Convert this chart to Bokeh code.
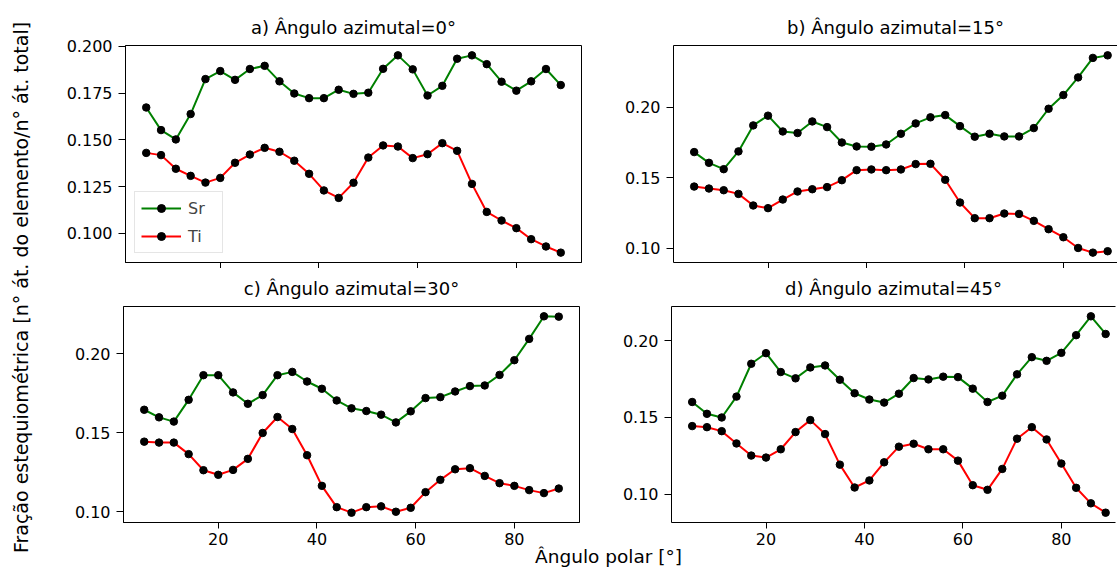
import math
from bokeh.plotting import figure
from bokeh.models import Range1d, FixedTicker, PrintfTickFormatter, Label, LinearAxis
from bokeh.layouts import row, column
from bokeh.embed import file_html
from bokeh.resources import INLINE

# ---------------- data ----------------
polar = [5, 8, 11, 14, 17, 20, 23, 26, 29, 32, 35, 38, 41, 44, 47, 50, 53, 56, 59,
         62, 65, 68, 71, 74, 77, 80, 83, 86, 89]

sr_a = [0.1673, 0.1552, 0.1502, 0.1638, 0.1825, 0.1868, 0.1821, 0.1879, 0.1896, 0.1813,
        0.1748, 0.1723, 0.1723, 0.1768, 0.1746, 0.1752, 0.1880, 0.1952, 0.1877, 0.1737,
        0.1789, 0.1934, 0.1952, 0.1905, 0.1811, 0.1763, 0.1813, 0.1879, 0.1793]
ti_a = [0.1430, 0.1418, 0.1345, 0.1307, 0.1271, 0.1296, 0.1377, 0.1421, 0.1457, 0.1436,
        0.1388, 0.1318, 0.1229, 0.1189, 0.1270, 0.1405, 0.1470, 0.1464, 0.1402, 0.1423,
        0.1482, 0.1441, 0.1264, 0.1114, 0.1068, 0.1027, 0.0968, 0.0929, 0.0896]

sr_b = [0.1681, 0.1605, 0.1560, 0.1686, 0.1870, 0.1939, 0.1827, 0.1816, 0.1898, 0.1858,
        0.1749, 0.1721, 0.1719, 0.1735, 0.1811, 0.1884, 0.1927, 0.1943, 0.1865, 0.1790,
        0.1811, 0.1792, 0.1792, 0.1851, 0.1988, 0.2085, 0.2210, 0.2348, 0.2366]
ti_b = [0.1437, 0.1423, 0.1411, 0.1385, 0.1303, 0.1284, 0.1345, 0.1402, 0.1418, 0.1433,
        0.1482, 0.1553, 0.1558, 0.1553, 0.1558, 0.1596, 0.1598, 0.1485, 0.1324, 0.1213,
        0.1213, 0.1246, 0.1243, 0.1194, 0.1135, 0.1078, 0.1002, 0.0969, 0.0979]

sr_c = [0.1646, 0.1598, 0.1571, 0.1709, 0.1865, 0.1865, 0.1756, 0.1684, 0.1739, 0.1865,
        0.1886, 0.1825, 0.1779, 0.1705, 0.1655, 0.1638, 0.1615, 0.1566, 0.1636, 0.1720,
        0.1726, 0.1762, 0.1796, 0.1800, 0.1867, 0.1960, 0.2095, 0.2238, 0.2236]
ti_c = [0.1444, 0.1438, 0.1438, 0.1365, 0.1263, 0.1234, 0.1265, 0.1335, 0.1499, 0.1600,
        0.1524, 0.1358, 0.1164, 0.1029, 0.0994, 0.1029, 0.1034, 0.1000, 0.1025, 0.1124,
        0.1202, 0.1269, 0.1276, 0.1227, 0.1181, 0.1164, 0.1137, 0.1118, 0.1147]

sr_d = [0.1600, 0.1523, 0.1499, 0.1635, 0.1849, 0.1918, 0.1795, 0.1754, 0.1825, 0.1838,
        0.1745, 0.1657, 0.1616, 0.1596, 0.1654, 0.1756, 0.1747, 0.1765, 0.1762, 0.1687,
        0.1600, 0.1641, 0.1780, 0.1892, 0.1868, 0.1920, 0.2035, 0.2158, 0.2043]
ti_d = [0.1443, 0.1436, 0.1410, 0.1330, 0.1251, 0.1238, 0.1292, 0.1404, 0.1482, 0.1391,
        0.1192, 0.1043, 0.1089, 0.1207, 0.1309, 0.1328, 0.1292, 0.1292, 0.1218, 0.1058,
        0.1028, 0.1164, 0.1361, 0.1436, 0.1356, 0.1199, 0.1041, 0.0940, 0.0879]

titles = ["a) Ângulo azimutal=0°", "b) Ângulo azimutal=15°",
          "c) Ângulo azimutal=30°", "d) Ângulo azimutal=45°"]
x_ticks = [20, 40, 60, 80]
y_ticks_a = [0.100, 0.125, 0.150, 0.175, 0.200]
y_ticks_bcd = [0.10, 0.15, 0.20]
series_names = ["Sr", "Ti"]
series_colors = ["green", "red"]
x_label = "Ângulo polar [°]"
y_label = "Fração estequiométrica [n° át. do elemento/n° át. total]"

FONT = "DejaVu Sans"


def style_axis(ax, tick_out, show_labels=True):
    ax.major_tick_out = tick_out
    ax.major_tick_in = 0
    ax.minor_tick_out = 0
    ax.minor_tick_in = 0
    ax.axis_line_color = "black"
    ax.axis_line_width = 1
    ax.major_tick_line_color = "black"
    ax.major_label_text_font = FONT
    ax.major_label_text_color = "black"
    if show_labels:
        ax.major_label_text_font_size = "16px"
    else:
        ax.major_label_text_font_size = "0px"
        ax.major_label_text_alpha = 0


def panel(title, sr, ti, yticks, fmt, fw, fh, bl, br, bt, bb, crop_right,
          show_xlabels, legend):
    xmin, xmax = min(polar), max(polar)
    xpad = 0.05 * (xmax - xmin)
    xend = xmax + 2.0 if crop_right else xmax + xpad
    ymin, ymax = min(min(sr), min(ti)), max(max(sr), max(ti))
    ypad = 0.05 * (ymax - ymin)
    p = figure(frame_width=fw, frame_height=fh,
               x_range=Range1d(xmin - xpad, xend),
               y_range=Range1d(ymin - ypad, ymax + ypad),
               output_backend="svg", toolbar_location=None,
               min_border_left=bl, min_border_right=br,
               min_border_top=bt, min_border_bottom=bb)
    p.xgrid.visible = False
    p.ygrid.visible = False
    p.background_fill_color = "white"
    p.border_fill_color = "white"
    p.xaxis.ticker = FixedTicker(ticks=x_ticks)
    p.yaxis.ticker = FixedTicker(ticks=yticks)
    p.yaxis.formatter = PrintfTickFormatter(format=fmt)
    style_axis(p.xaxis[0], 6, show_xlabels)
    style_axis(p.yaxis[0], 7, True)
    p.xaxis.major_label_standoff = 4 if show_xlabels else 0
    p.yaxis.major_label_standoff = 6
    if crop_right:
        p.outline_line_color = None
        top = LinearAxis(ticker=FixedTicker(ticks=[]))
        top.major_tick_out = 0
        top.major_tick_in = 0
        top.minor_tick_out = 0
        top.minor_tick_in = 0
        top.major_label_text_font_size = "0px"
        top.major_label_standoff = 0
        top.axis_line_color = "black"
        top.axis_line_width = 1
        p.add_layout(top, "above")
    else:
        p.outline_line_color = "black"
        p.outline_line_width = 1
        p.outline_line_alpha = 1

    p.title.text = title
    p.title.align = "center"
    p.title.text_font = FONT
    p.title.text_font_size = "18px"
    p.title.text_font_style = "normal"
    p.title.text_color = "black"
    p.title.standoff = 15

    for vals, name, col in zip([sr, ti], series_names, series_colors):
        kw = dict(legend_label=name) if legend else {}
        p.line(polar, vals, line_color=col, line_width=2, **kw)
        p.scatter(polar, vals, size=7.5, fill_color="black", line_color="black", **kw)

    if legend:
        lg = p.legend[0]
        lg.location = "bottom_left"
        lg.margin = 9
        lg.padding = 6
        lg.spacing = 8
        lg.glyph_width = 40
        lg.glyph_height = 20
        lg.label_height = 20
        lg.label_width = 28
        lg.label_standoff = 7
        lg.label_text_font = FONT
        lg.label_text_font_size = "16px"
        lg.border_line_color = "#cccccc"
        lg.border_line_width = 1
        lg.background_fill_alpha = 0.8
    return p


fa = panel(titles[0], sr_a, ti_a, y_ticks_a, "%.3f", 456, 217, 60, 10, 45, 6, False, False, True)
fb = panel(titles[1], sr_b, ti_b, y_ticks_bcd, "%.2f", 444, 217, 82, 1, 45, 6, True, False, False)
fc = panel(titles[2], sr_c, ti_c, y_ticks_bcd, "%.2f", 456, 216, 60, 10, 38, 30, False, True, False)
fd = panel(titles[3], sr_d, ti_d, y_ticks_bcd, "%.2f", 444, 216, 82, 1, 38, 30, True, True, False)

# shared y label
ylab = figure(width=63, height=567, x_range=Range1d(0, 63), y_range=Range1d(0, 567),
              x_axis_type=None, y_axis_type=None, output_backend="svg",
              toolbar_location=None, min_border=0, title=None)
ylab.outline_line_color = None
ylab.add_layout(Label(x=20, y=280, text=y_label, angle=math.pi / 2,
                      text_align="center", text_baseline="middle",
                      text_font=FONT, text_font_size="19px", text_color="black"))

# shared x label, pulled up so that it shares the bottom row's lower border
xlab = figure(width=1053, height=31, x_range=Range1d(0, 1053), y_range=Range1d(0, 31),
              x_axis_type=None, y_axis_type=None, output_backend="svg",
              toolbar_location=None, min_border=0, title=None,
              margin=(-16, 0, 0, 0))
xlab.outline_line_color = None
xlab.background_fill_color = None
xlab.border_fill_color = None
xlab.add_layout(Label(x=545, y=1, text=x_label, text_align="center",
                      text_baseline="bottom", text_font=FONT,
                      text_font_size="18.5px", text_color="black"))

layout = row(ylab, column(row(fa, fb), row(fc, fd), xlab))

open("out.html", "w").write(file_html(layout, INLINE))
